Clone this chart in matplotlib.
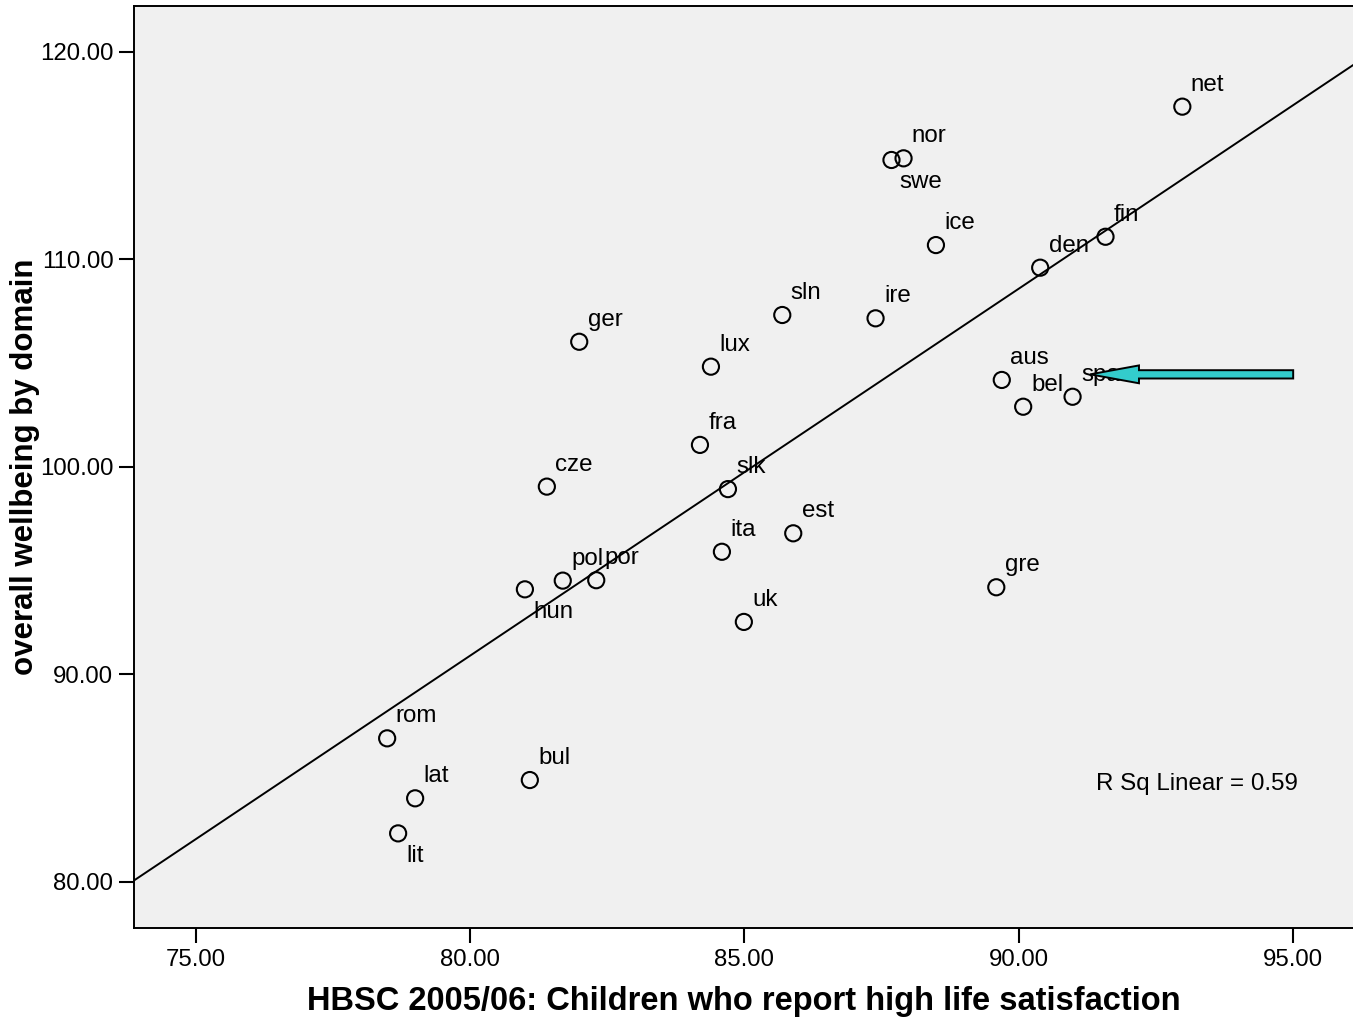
import numpy as np
import matplotlib
matplotlib.use("Agg")
import matplotlib.pyplot as plt
from matplotlib.patches import FancyArrow

plt.rcParams['font.family'] = ['Liberation Sans', 'DejaVu Sans']

# country codes, life satisfaction (x) and overall wellbeing (y)
countries = ['net', 'nor', 'swe', 'ice', 'fin', 'den', 'sln', 'ire', 'ger', 'lux',
             'aus', 'bel', 'spa', 'fra', 'cze', 'slk', 'est', 'ita', 'pol', 'por',
             'hun', 'gre', 'uk', 'rom', 'bul', 'lat', 'lit']
life_sat = [92.98, 87.90, 87.68, 88.49, 91.58, 90.39, 85.69, 87.39, 81.99, 84.39,
            89.69, 90.08, 90.98, 84.19, 81.40, 84.70, 85.89, 84.59, 81.69, 82.30,
            81.00, 89.59, 84.99, 78.49, 81.09, 79.00, 78.69]
wellbeing = [117.35, 114.86, 114.78, 110.68, 111.08, 109.59, 107.31, 107.15, 106.02, 104.82,
             104.18, 102.89, 103.37, 101.05, 99.04, 98.92, 96.79, 95.90, 94.51, 94.53,
             94.09, 94.19, 92.52, 86.91, 84.90, 84.02, 82.33]
below = ['swe', 'hun', 'lit']   # labels drawn under the marker

x_ticks = [75, 80, 85, 90, 95]
y_ticks = [80, 90, 100, 110, 120]
r_sq_text = 'R Sq Linear = 0.59'
arrow_from = (95.0, 104.45)
arrow_to = (91.30, 104.45)

fig = plt.figure(figsize=(13.53, 10.18), dpi=100)
ax = fig.add_axes([0.099, 0.0884, 0.901, 0.9057])
ax.set_facecolor('#f0f0f0')

x = np.array(life_sat)
y = np.array(wellbeing)

# linear fit across the full axis
slope, intercept = np.polyfit(x, y, 1)
xl = np.array([73.876, 96.09])
ax.plot(xl, slope * xl + intercept, color='black', lw=1.4, zorder=2)

ax.scatter(x, y, s=135, facecolors='none', edgecolors='black', linewidths=1.5, zorder=3)

for name, xi, yi in zip(countries, life_sat, wellbeing):
    if name in below:
        off = (6.0, -20.5)
    else:
        off = (6.0, 11.5)
    ax.annotate(name, (xi, yi), xytext=off, textcoords='offset points',
                ha='left', va='baseline', fontsize=17.4, color='black', zorder=3)

# highlight arrow pointing at spain
ax.add_patch(FancyArrow(arrow_from[0], arrow_from[1], arrow_to[0] - arrow_from[0], 0,
                        width=0.40, head_width=0.86, head_length=0.89,
                        length_includes_head=True, fc='#33cccc', ec='black', lw=1.4, zorder=5))

ax.text(91.41, 84.42, r_sq_text, fontsize=17.4, ha='left', va='baseline')

ax.set_xlim(73.876, 96.09)
ax.set_ylim(77.77, 122.2)
ax.set_xticks(x_ticks)
ax.set_yticks(y_ticks)
ax.set_xticklabels([f'{v:.2f}' for v in x_ticks])
ax.set_yticklabels([f'{v:.2f}' for v in y_ticks])
ax.tick_params(direction='out', length=10.8, width=1.5, labelsize=17.3, pad=4)
for side in ['left', 'bottom', 'top']:
    ax.spines[side].set_linewidth(1.4)
ax.spines['right'].set_visible(False)

ax.set_xlabel('HBSC 2005/06: Children who report high life satisfaction',
              fontsize=23.5, fontweight='bold', labelpad=11)
ax.set_ylabel('overall wellbeing by domain', fontsize=22.5, fontweight='bold', labelpad=0)

fig.savefig('out.png', dpi=100)
